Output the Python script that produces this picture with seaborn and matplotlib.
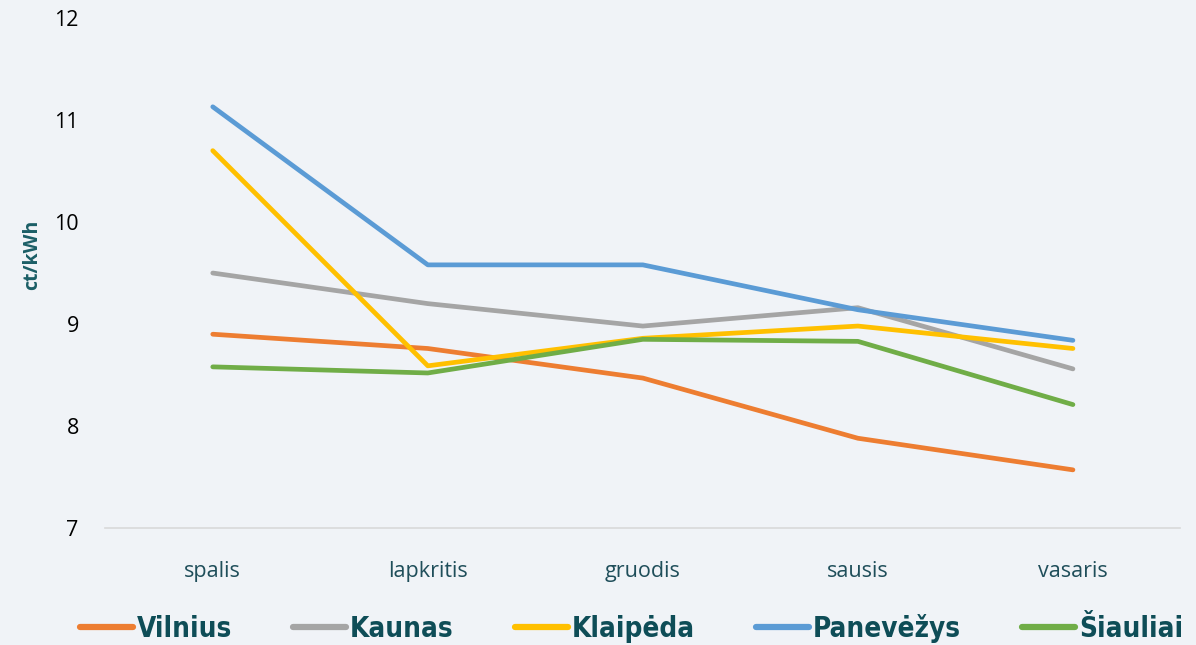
import matplotlib
matplotlib.use("Agg")
import matplotlib.pyplot as plt
import seaborn as sns
import pandas as pd
from matplotlib.lines import Line2D

months = ["spalis", "lapkritis", "gruodis", "sausis", "vasaris"]
cities = ["Vilnius", "Kaunas", "Klaipėda", "Panevėžys", "Šiauliai"]
vilnius = [8.90, 8.76, 8.47, 7.88, 7.57]
kaunas = [9.50, 9.20, 8.98, 9.16, 8.56]
klaipeda = [10.70, 8.59, 8.86, 8.98, 8.76]
panevezys = [11.13, 9.58, 9.58, 9.14, 8.84]
siauliai = [8.58, 8.52, 8.85, 8.83, 8.21]
colors = ["#ED7D31", "#A5A5A5", "#FFC000", "#5B9BD5", "#70AD47"]
yticks = [7, 8, 9, 10, 11, 12]

series = [vilnius, kaunas, klaipeda, panevezys, siauliai]
rows = []
for c, vals in zip(cities, series):
    for i, (m, v) in enumerate(zip(months, vals)):
        rows.append({"month": m, "x": i, "city": c, "value": v})
df = pd.DataFrame(rows)

sns.set_theme(style="white")
plt.rcParams["font.family"] = ["Open Sans", "DejaVu Sans"]
bg = "#F0F3F7"
fig = plt.figure(figsize=(11.96, 6.45), dpi=100, facecolor=bg)
ax = fig.add_axes([0.088, 0.1814, 0.899, 0.7906], facecolor=bg)

sns.lineplot(data=df, x="x", y="value", hue="city", hue_order=cities,
             palette=colors, linewidth=3.4, ax=ax, sort=False, legend=False)

ax.set_xlim(-0.5, 4.5)
ax.set_ylim(7, 12)
ax.set_xticks(range(len(months)))
ax.set_xticklabels(months, fontsize=15.5, color="#1F4E5A")
ax.set_yticks(yticks)
ax.set_yticklabels([str(t) for t in yticks], fontsize=15.5, color="black")
ax.tick_params(axis="x", length=0, pad=24)
ax.tick_params(axis="y", length=0, pad=19)
ax.set_xlabel("")
ax.set_ylabel("ct/kWh", fontsize=14, fontweight="bold", color="#1B5E66")
ax.yaxis.set_label_coords(-0.059, 0.535)
for s in ["top", "right", "left"]:
    ax.spines[s].set_visible(False)
ax.spines["bottom"].set_color("#D9D9D9")
ax.spines["bottom"].set_linewidth(1.2)

handles = [Line2D([0], [0], color=c, lw=4.5, solid_capstyle="round") for c in colors]
leg = fig.legend(handles, cities, loc="lower center", bbox_to_anchor=(0.528, -0.035),
                 ncol=5, frameon=False, handlelength=1.9, handletextpad=0.15,
                 columnspacing=2.2,
                 prop={"family": "DejaVu Sans", "stretch": "condensed",
                       "weight": "bold", "size": 20})
for t in leg.get_texts():
    t.set_color("#0E4D57")

fig.savefig("out.png", dpi=100, facecolor=bg)
